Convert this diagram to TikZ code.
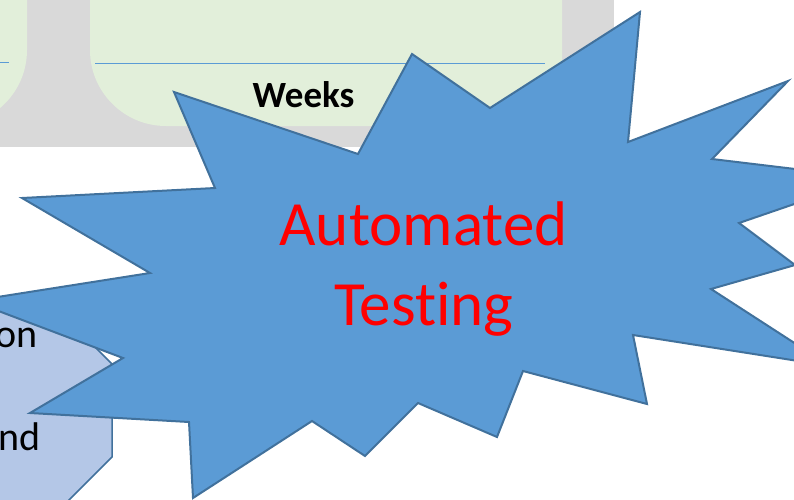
\documentclass[tikz,border=0pt]{standalone}
\usepackage{fontspec}
\setmainfont{Carlito}[Ligatures=NoCommon]
\definecolor{bggray}{HTML}{D9D9D9}
\definecolor{lgreen}{HTML}{E2EFDA}
\definecolor{starfill}{HTML}{5B9BD5}
\definecolor{starline}{HTML}{41719C}
\definecolor{hexfill}{HTML}{B4C7E7}
\definecolor{rule}{HTML}{5B9BD5}
\tikzset{
  panel/.style={fill=lgreen, draw=none},
  ruleline/.style={draw=rule, line width=1pt},
  burst/.style={fill=starfill, draw=starline, line width=2pt, line join=miter, miter limit=20},
  hexshape/.style={fill=hexfill, draw=starline, line width=1.5pt},
  bodytext/.style={font=\fontsize{40}{48}\selectfont, text=black, inner sep=0pt},
}
\begin{document}
\begin{tikzpicture}[x=1pt, y=-1pt]
\useasboundingbox (0,0) rectangle (794,499);
\clip (0,0) rectangle (794,499);
% gray background band
\fill[bggray] (0,-10) rectangle (614,147);
% green panels
\fill[panel] (-200,-20) -- (27,-20) -- (27,50) arc[start angle=0, end angle=90, radius=76] -- (-200,126) -- cycle;
\fill[panel] (562,-20) -- (562,126) -- (166,126) arc[start angle=90, end angle=180, radius=76] -- (90,-20) -- cycle;
\draw[ruleline] (0,62) -- (9,62);
\draw[ruleline] (95,63) -- (545,63);
\node[font=\fontsize{37}{44}\selectfont\bfseries, anchor=base, inner sep=0pt] (weeks) at (303.5,107) {Weeks};
% hexagon
\path[hexshape] (-80,302) -- (50,302) -- (112,364) -- (112,457) -- (60,509) -- (-80,509) -- cycle;
\node[bodytext, anchor=base east] (on) at (37.5,347) {on};
\node[bodytext, anchor=base east] (nd) at (40.5,450) {nd};
% explosion
\path[burst] (174,92) -- (358,154) -- (412,54) -- (490,108) -- (640,12) -- (628,142)
  -- (788,81) -- (712,159) -- (870,178) -- (739,223) -- (795,265) -- (711,289)
  -- (830,366) -- (633,335) -- (647,404) -- (523,371) -- (497,437) -- (418,403)
  -- (365,456) -- (312,421) -- (193,498) -- (189,422) -- (30,413) -- (123,358)
  -- (-28,301) -- (150,273) -- (22,198) -- (215,188) -- cycle;
\node[font=\fontsize{63}{80}\selectfont, text=red, inner sep=0pt, anchor=base] (auto) at (423.5,245) {Automated};
\node[font=\fontsize{63}{80}\selectfont, text=red, inner sep=0pt, anchor=base] (test) at (424,325) {Testing};
\end{tikzpicture}
\end{document}
